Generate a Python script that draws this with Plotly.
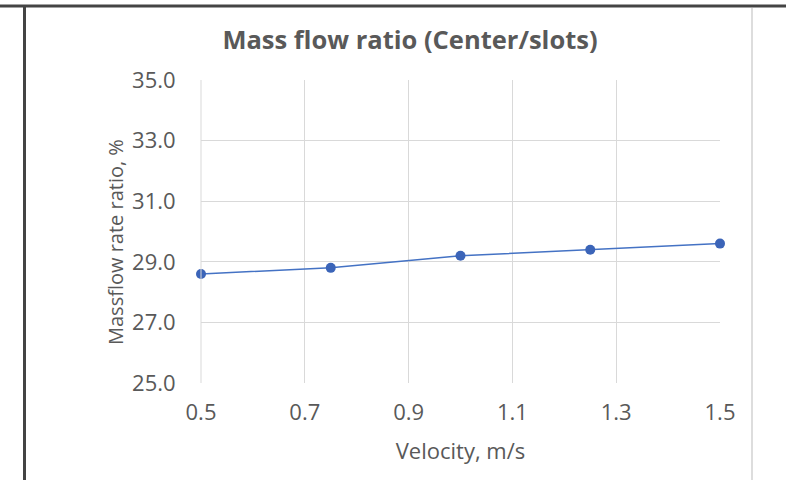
import plotly.graph_objects as go

velocity = [0.5, 0.75, 1.0, 1.25, 1.5]
ratio = [28.6, 28.8, 29.2, 29.4, 29.6]
x_ticks = [0.5, 0.7, 0.9, 1.1, 1.3, 1.5]
y_ticks = [25.0, 27.0, 29.0, 31.0, 33.0, 35.0]

W, H = 786, 480
L, R, T, B = 201, 66, 80, 97
pw, ph = W - L - R, H - T - B

def px(xp):
    return (xp - L) / pw

def py(yp):
    return (H - B - yp) / ph

grey = "#595959"
font = "Open Sans"

fig = go.Figure()
fig.add_trace(go.Scatter(
    x=velocity, y=ratio, mode="lines+markers",
    line=dict(color="#4472C4", width=1.5),
    marker=dict(color="#3B64B8", size=10),
    cliponaxis=False,
    showlegend=False,
))

fig.update_layout(
    width=W, height=H,
    margin=dict(l=L, r=R, t=T, b=B),
    paper_bgcolor="white", plot_bgcolor="white",
    title=dict(text="<b>Mass flow ratio (Center/slots)</b>", x=410 / W, xanchor="center",
               y=1 - 40 / H, yanchor="middle",
               font=dict(family=font, size=25.5, color=grey)),
    xaxis=dict(range=[0.5, 1.5], tickvals=x_ticks, tickformat=".1f",
               showgrid=True, gridcolor="#d9d9d9", gridwidth=1, zeroline=False,
               showline=False, ticks="outside", ticklen=10, tickcolor="rgba(0,0,0,0)",
               tickfont=dict(family=font, size=22, color=grey),
               title=dict(text="Velocity, m/s", standoff=18,
                          font=dict(family=font, size=22, color=grey))),
    yaxis=dict(range=[25, 35], tickvals=y_ticks, tickformat=".1f",
               showgrid=True, gridcolor="#d9d9d9", gridwidth=1, zeroline=False,
               showline=False, ticks="outside", ticklen=20, tickcolor="rgba(0,0,0,0)",
               tickfont=dict(family=font, size=22, color=grey)),
    annotations=[
        dict(text="Massflow rate ratio, %", xref="paper", yref="paper",
             x=px(115), y=py(242), xanchor="center", yanchor="middle",
             textangle=-90, showarrow=False,
             font=dict(family=font, size=20, color=grey)),
    ],
    shapes=[
        dict(type="line", xref="paper", yref="paper", x0=px(0), x1=px(W), y0=py(6), y1=py(6),
             line=dict(color="#444444", width=3)),
        dict(type="line", xref="paper", yref="paper", x0=px(24.5), x1=px(24.5), y0=py(6), y1=py(H),
             line=dict(color="#444444", width=3)),
        dict(type="line", xref="paper", yref="paper", x0=px(752), x1=px(752), y0=py(8), y1=py(H),
             line=dict(color="#dddddd", width=2)),
        dict(type="line", xref="paper", yref="paper", x0=0, x1=0, y0=0, y1=1,
             line=dict(color="#d9d9d9", width=1)),
    ],
)

fig.write_html("out.html")
